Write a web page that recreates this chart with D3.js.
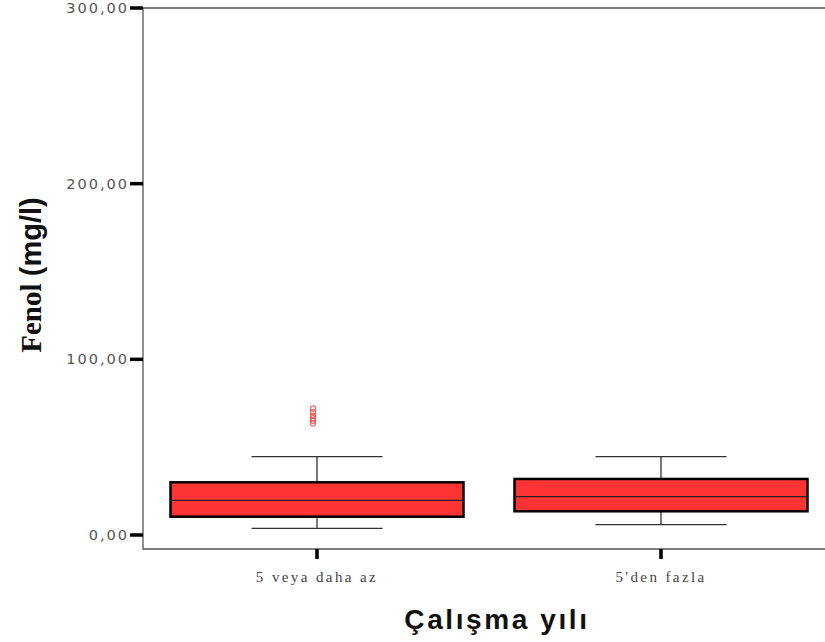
<!DOCTYPE html>
<html>
<head>
<meta charset="utf-8">
<script src="https://cdn.jsdelivr.net/npm/d3@7"></script>
<style>
  body { margin: 0; background: #fff; }
  svg { display: block; }
</style>
</head>
<body>
<div id="chart"></div>
<script>
// groups and box statistics
const groups = ['5 veya daha az', "5'den fazla"];
const lowWhisker = [3.8, 5.9];
const q1 = [10.4, 13.5];
const median = [19.7, 21.8];
const q3 = [30.0, 31.9];
const highWhisker = [44.6, 44.6];
const outliers = [[63.5, 65, 66.5, 68, 70, 72], []];
const yTicks = [0, 100, 200, 300];

(function() {
  let width = 825;
  let height = 642;
  let svg = d3.select('#chart')
    .append('svg:svg')
    .attr('width', width)
    .attr('height', height);

  let left = 143, top = 8, bottom = 549;
  let y = d3.scaleLinear().domain([0, 300]).range([535, 8]);
  let x = d3.scaleBand().domain(groups).range([145, 833]);
  let boxW = 293, capW = 131;
  let fmt = d => d3.format('.2f')(d).replace('.', ',');

  // frame
  svg.append('path')
    .attr('d', `M${width},${top}H${left}V${bottom}H${width}`)
    .attr('fill', 'none')
    .attr('stroke', '#555')
    .attr('stroke-width', 1.3);

  // y axis ticks + labels
  yTicks.forEach(t => {
    svg.append('line')
      .attr('x1', 130).attr('x2', left)
      .attr('y1', y(t)).attr('y2', y(t))
      .attr('stroke', '#000').attr('stroke-width', 3.5);
    svg.append('text')
      .attr('x', 129).attr('y', y(t) + 5)
      .attr('text-anchor', 'end')
      .attr('font-family', 'DejaVu Sans')
      .attr('font-size', 14.5)
      .attr('letter-spacing', 2)
      .attr('fill', '#555')
      .text(fmt(t));
  });

  // x ticks + labels
  groups.forEach(g => {
    let cx = x(g) + x.bandwidth() / 2;
    svg.append('line')
      .attr('x1', cx).attr('x2', cx)
      .attr('y1', bottom).attr('y2', 559)
      .attr('stroke', '#000').attr('stroke-width', 3.5);
    svg.append('text')
      .attr('x', cx).attr('y', 582)
      .attr('text-anchor', 'middle')
      .attr('font-family', 'Liberation Serif')
      .attr('font-size', 15)
      .attr('letter-spacing', 2.4)
      .attr('fill', '#444')
      .text(g);
  });

  // boxes
  groups.forEach((g, i) => {
    let cx = x(g) + x.bandwidth() / 2;
    let grp = svg.append('g');
    grp.append('line')
      .attr('x1', cx).attr('x2', cx)
      .attr('y1', y(highWhisker[i])).attr('y2', y(q3[i]))
      .attr('stroke', '#333').attr('stroke-width', 1.3);
    grp.append('line')
      .attr('x1', cx).attr('x2', cx)
      .attr('y1', y(q1[i])).attr('y2', y(lowWhisker[i]))
      .attr('stroke', '#333').attr('stroke-width', 1.3);
    [highWhisker[i], lowWhisker[i]].forEach(v => {
      grp.append('line')
        .attr('x1', cx - capW / 2).attr('x2', cx + capW / 2)
        .attr('y1', y(v)).attr('y2', y(v))
        .attr('stroke', '#333').attr('stroke-width', 1.3);
    });
    grp.append('rect')
      .attr('x', cx - boxW / 2)
      .attr('y', y(q3[i]))
      .attr('width', boxW)
      .attr('height', y(q1[i]) - y(q3[i]))
      .attr('fill', '#fe3334')
      .attr('stroke', '#000')
      .attr('stroke-width', 2.5);
    grp.append('line')
      .attr('x1', cx - boxW / 2).attr('x2', cx + boxW / 2)
      .attr('y1', y(median[i])).attr('y2', y(median[i]))
      .attr('stroke', '#222').attr('stroke-width', 1.3);
    grp.selectAll('.outlier')
      .data(outliers[i])
      .enter().append('circle')
      .attr('class', 'outlier')
      .attr('cx', cx - 4)
      .attr('cy', d => y(d))
      .attr('r', 2.6)
      .attr('fill', 'none')
      .attr('stroke', '#f04040')
      .attr('stroke-width', 1.1)
      .attr('opacity', 0.8);
  });

  // axis titles
  let yTitle = svg.append('text')
    .attr('transform', 'translate(41,275) rotate(-90)')
    .attr('text-anchor', 'middle')
    .attr('font-weight', 'bold')
    .attr('font-size', 29)
    .attr('fill', '#111');
  yTitle.append('tspan')
    .attr('font-family', 'Liberation Serif')
    .text('Fenol ');
  yTitle.append('tspan')
    .attr('font-family', 'Liberation Sans')
    .text('(mg/l)');

  svg.append('text')
    .attr('x', 497).attr('y', 629)
    .attr('text-anchor', 'middle')
    .attr('font-family', 'Liberation Sans')
    .attr('font-weight', 'bold')
    .attr('font-size', 28)
    .attr('letter-spacing', 2.6)
    .attr('fill', '#111')
    .text('Çalışma yılı');
})();
</script>
</body>
</html>
